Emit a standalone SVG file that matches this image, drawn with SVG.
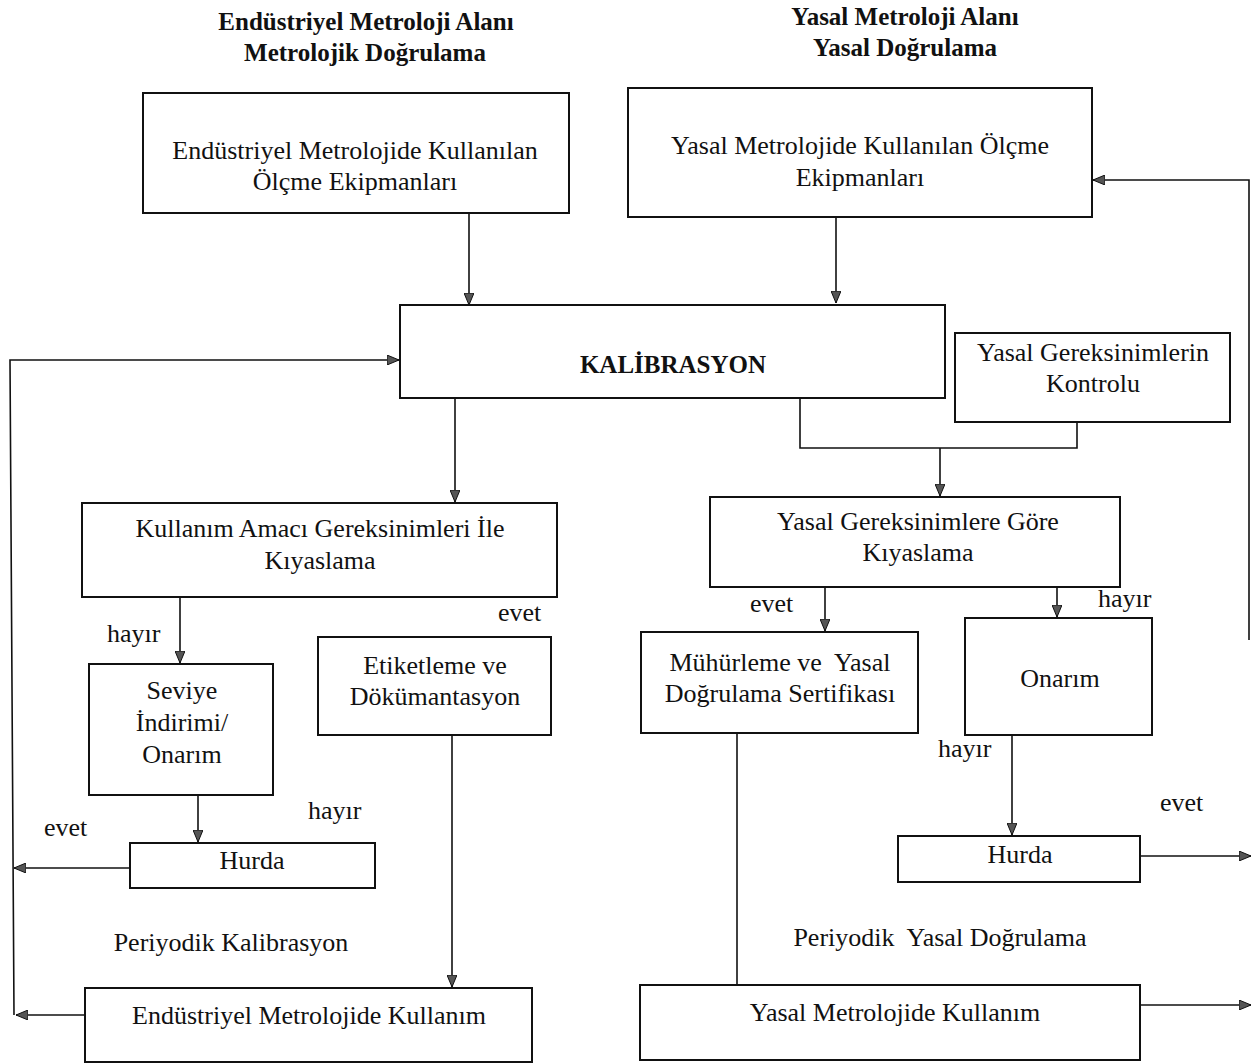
<svg xmlns="http://www.w3.org/2000/svg" width="1253" height="1064" viewBox="0 0 1253 1064">
<style>
.box{fill:#fff;stroke:#111;stroke-width:2}
.t{font-family:"Liberation Serif","Times New Roman",serif;font-size:26px;fill:#111;text-anchor:middle}
.h{font-family:"Liberation Serif","Times New Roman",serif;font-size:25px;font-weight:bold;fill:#111;text-anchor:middle}
.lbl{font-family:"Liberation Serif","Times New Roman",serif;font-size:26px;fill:#111}
.c{fill:none;stroke:#111;stroke-width:1.6}
.ca{fill:none;stroke:#111;stroke-width:1.6;marker-end:url(#arr)}
</style>
<defs>
<marker id="arr" markerUnits="userSpaceOnUse" markerWidth="12" markerHeight="10" refX="12" refY="5" orient="auto">
<path d="M0,0 L12,5 L0,10 z" fill="#555" stroke="#111" stroke-width="1"/>
</marker>
</defs>

<g id="headers">
<text class="h" x="366" y="30">Endüstriyel Metroloji Alanı</text>
<text class="h" x="365" y="61">Metrolojik Doğrulama</text>
<text class="h" x="905" y="25">Yasal Metroloji Alanı</text>
<text class="h" x="905" y="56">Yasal Doğrulama</text>
</g>

<g id="connectors">
<path class="ca" d="M469,213 V305"/>
<path class="ca" d="M836,217 V303"/>
<path class="ca" d="M455,398 V502"/>
<path class="c" d="M800,398 V448 H1077 V422"/>
<path class="ca" d="M940,448 V496"/>
<path class="ca" d="M825,587 V631"/>
<path class="ca" d="M1057,587 V617"/>
<path class="ca" d="M1012,735 V835"/>
<path class="ca" d="M1140,856 H1251"/>
<path class="c" d="M737,733 V985"/>
<path class="ca" d="M1140,1005 H1251"/>
<path class="ca" d="M1249,640 V180 H1093"/>
<path class="ca" d="M180,597 V663"/>
<path class="ca" d="M452,735 V987"/>
<path class="ca" d="M198,795 V842"/>
<path class="ca" d="M130,868 H14"/>
<path class="ca" d="M85,1015 H16"/>
<path class="ca" d="M14,1015 L10,360 H399"/>
</g>

<g id="n-ind-equip">
<rect class="box" x="143" y="93" width="426" height="120"/>
<text class="t" x="355" y="159">Endüstriyel Metrolojide Kullanılan</text>
<text class="t" x="355" y="190">Ölçme Ekipmanları</text>
</g>
<g id="n-legal-equip">
<rect class="box" x="628" y="88" width="464" height="129"/>
<text class="t" x="860" y="154">Yasal Metrolojide Kullanılan Ölçme</text>
<text class="t" x="860" y="186">Ekipmanları</text>
</g>
<g id="n-kalibrasyon">
<rect class="box" x="400" y="305" width="545" height="93"/>
<text class="h" x="673" y="373">KALİBRASYON</text>
</g>
<g id="n-kontrol">
<rect class="box" x="955" y="333" width="275" height="89"/>
<text class="t" x="1093" y="361">Yasal Gereksinimlerin</text>
<text class="t" x="1093" y="392">Kontrolu</text>
</g>
<g id="n-legal-compare">
<rect class="box" x="710" y="497" width="410" height="90"/>
<text class="t" x="918" y="530">Yasal Gereksinimlere Göre</text>
<text class="t" x="918" y="561">Kıyaslama</text>
</g>
<g id="n-muhurleme">
<rect class="box" x="641" y="632" width="277" height="101"/>
<text class="t" x="780" y="671" xml:space="preserve">Mühürleme ve  Yasal</text>
<text class="t" x="780" y="702">Doğrulama Sertifikası</text>
</g>
<g id="n-onarim-r">
<rect class="box" x="965" y="618" width="187" height="117"/>
<text class="t" x="1060" y="687">Onarım</text>
</g>
<g id="n-hurda-r">
<rect class="box" x="898" y="836" width="242" height="46"/>
<text class="t" x="1020" y="863">Hurda</text>
</g>
<g id="n-legal-use">
<rect class="box" x="640" y="985" width="500" height="75"/>
<text class="t" x="895" y="1021">Yasal Metrolojide Kullanım</text>
</g>
<g id="n-ind-compare">
<rect class="box" x="82" y="503" width="475" height="94"/>
<text class="t" x="320" y="537">Kullanım Amacı Gereksinimleri İle</text>
<text class="t" x="320" y="569">Kıyaslama</text>
</g>
<g id="n-etiket">
<rect class="box" x="318" y="637" width="233" height="98"/>
<text class="t" x="435" y="674">Etiketleme ve</text>
<text class="t" x="435" y="705">Dökümantasyon</text>
</g>
<g id="n-seviye">
<rect class="box" x="89" y="664" width="184" height="131"/>
<text class="t" x="182" y="699">Seviye</text>
<text class="t" x="182" y="731">İndirimi/</text>
<text class="t" x="182" y="763">Onarım</text>
</g>
<g id="n-hurda-l">
<rect class="box" x="130" y="843" width="245" height="45"/>
<text class="t" x="252" y="869">Hurda</text>
</g>
<g id="n-ind-use">
<rect class="box" x="85" y="988" width="447" height="74"/>
<text class="t" x="309" y="1024">Endüstriyel Metrolojide Kullanım</text>
</g>

<g id="labels">
<text class="lbl" x="107" y="642">hayır</text>
<text class="lbl" x="498" y="621">evet</text>
<text class="lbl" x="308" y="819">hayır</text>
<text class="lbl" x="44" y="836">evet</text>
<text class="t" x="231" y="951">Periyodik Kalibrasyon</text>
<text class="lbl" x="750" y="612">evet</text>
<text class="lbl" x="1098" y="607">hayır</text>
<text class="lbl" x="938" y="757">hayır</text>
<text class="lbl" x="1160" y="811">evet</text>
<text class="t" x="940" y="946" xml:space="preserve">Periyodik  Yasal Doğrulama</text>
</g>
</svg>
